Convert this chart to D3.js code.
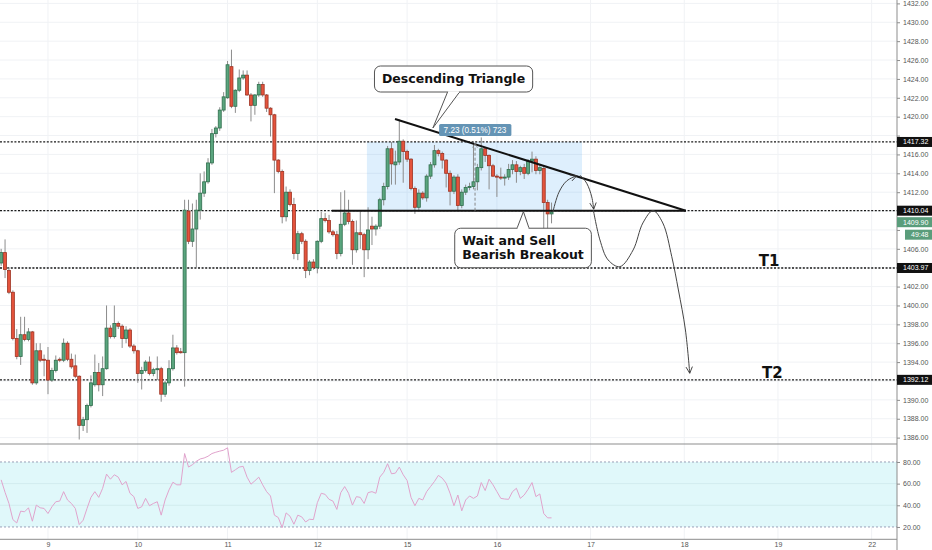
<!DOCTYPE html>
<html><head><meta charset="utf-8">
<script src="https://cdn.jsdelivr.net/npm/d3@7/dist/d3.min.js"></script>
<style>body{margin:0;background:#fff}svg{display:block}</style>
</head><body>
<svg id="c" width="932" height="550"></svg>
<script>
// ---------------- DATA ----------------
const opens = [1404.5,1405.6,1403.7,1401.4,1396.5,1394.6,1396.9,1396.4,1397.2,1391.8,1395.2,1394.3,1394.2,1392.1,1393.1,1394.3,1394.2,1396.0,1394.3,1393.6,1392.5,1387.3,1387.9,1389.4,1391.6,1392.9,1391.6,1393.3,1397.6,1396.7,1398.1,1397.8,1396.5,1397.4,1395.7,1395.2,1392.8,1393.1,1394.0,1392.8,1393.2,1393.3,1390.6,1391.8,1393.3,1395.5,1395.1,1395.0,1410.0,1406.8,1408.1,1410.1,1411.9,1413.1,1415.1,1418.2,1418.8,1420.7,1422.0,1425.3,1421.1,1422.8,1424.1,1424.4,1422.3,1421.2,1422.3,1423.4,1422.3,1420.9,1420.2,1415.4,1414.2,1409.4,1412.0,1410.7,1405.5,1407.6,1406.8,1403.7,1404.6,1404.0,1406.8,1409.2,1409.0,1407.8,1407.5,1405.5,1408.6,1409.8,1408.9,1405.9,1407.7,1407.5,1405.9,1408.4,1408.1,1408.4,1411.2,1412.6,1416.6,1414.9,1415.2,1417.4,1416.3,1415.5,1412.4,1410.4,1411.9,1411.4,1413.7,1414.9,1416.4,1416.1,1415.4,1414.0,1412.1,1413.6,1410.6,1412.0,1412.5,1412.6,1413.1,1414.6,1416.6,1415.9,1414.8,1413.7,1413.6,1413.5,1413.6,1414.4,1414.9,1414.2,1414.6,1414.0,1415.3,1415.5,1414.3,1414.5,1410.9,1409.7];
const highs = [1406.0,1407.0,1404.0,1401.6,1397.5,1398.8,1398.8,1397.6,1397.3,1396.0,1396.0,1394.8,1395.6,1393.4,1394.7,1394.5,1396.5,1396.2,1394.9,1394.8,1392.6,1388.2,1389.6,1392.6,1394.8,1393.9,1394.6,1400.0,1397.9,1400.0,1398.3,1398.0,1397.8,1397.6,1395.9,1395.3,1393.5,1394.2,1394.6,1393.4,1394.6,1393.5,1392.0,1394.2,1396.9,1395.8,1395.5,1411.2,1411.2,1410.8,1411.2,1414.0,1414.2,1415.6,1418.7,1419.0,1421.0,1422.6,1425.9,1427.1,1422.9,1425.0,1424.9,1424.9,1422.5,1422.4,1423.7,1423.7,1422.4,1421.0,1420.3,1415.5,1414.4,1412.6,1412.3,1411.4,1407.9,1407.8,1407.0,1404.8,1404.9,1406.9,1409.9,1409.8,1409.6,1408.0,1407.9,1412.0,1412.2,1411.2,1409.1,1409.0,1410.1,1407.7,1410.4,1409.4,1408.6,1411.4,1413.0,1416.9,1417.3,1416.4,1419.7,1417.6,1416.5,1415.6,1412.6,1412.3,1412.1,1413.9,1415.2,1417.0,1416.6,1416.3,1415.5,1414.3,1413.8,1413.9,1412.3,1412.8,1413.0,1417.4,1415.0,1417.8,1416.8,1416.0,1415.0,1413.9,1414.6,1413.9,1415.0,1415.4,1415.3,1414.8,1415.0,1415.5,1416.3,1415.8,1415.0,1414.7,1411.2,1410.9];
const lows = [1404.2,1402.9,1401.2,1396.3,1394.3,1393.7,1396.2,1396.2,1391.6,1391.6,1394.0,1392.5,1390.6,1391.9,1392.9,1394.0,1394.0,1394.1,1393.3,1392.3,1385.8,1386.7,1386.5,1389.2,1391.4,1390.9,1390.4,1393.2,1396.5,1396.5,1397.5,1395.5,1396.0,1395.5,1394.9,1391.8,1391.1,1392.9,1392.6,1392.5,1392.1,1389.8,1390.3,1391.5,1393.1,1394.8,1394.9,1391.4,1406.5,1406.2,1404.0,1409.1,1411.5,1412.9,1414.9,1417.8,1418.5,1420.5,1421.9,1420.9,1420.4,1422.6,1423.9,1422.2,1419.5,1420.2,1422.1,1422.1,1420.5,1417.9,1411.9,1414.0,1408.7,1408.9,1410.5,1404.9,1404.8,1406.5,1402.9,1403.2,1403.8,1403.4,1406.6,1408.8,1407.6,1407.3,1404.9,1405.2,1408.4,1408.6,1404.3,1405.6,1406.0,1403.0,1404.9,1406.4,1407.4,1408.1,1410.6,1412.3,1412.8,1412.8,1414.9,1413.0,1415.2,1412.2,1409.7,1410.0,1411.2,1411.0,1413.4,1414.6,1415.8,1414.5,1412.5,1410.6,1411.8,1410.1,1410.3,1411.7,1412.2,1412.3,1412.2,1414.3,1415.2,1412.3,1413.6,1411.5,1413.3,1412.7,1413.3,1413.9,1413.0,1413.8,1413.4,1413.8,1414.1,1413.9,1413.9,1407.8,1407.8,1408.7];
const closes = [1405.6,1403.8,1401.4,1396.5,1394.6,1396.9,1396.4,1397.2,1391.8,1395.2,1394.2,1394.2,1392.1,1393.1,1394.2,1394.2,1396.0,1394.3,1393.5,1392.5,1387.3,1387.9,1389.4,1391.8,1392.9,1391.6,1393.3,1397.6,1396.7,1398.1,1397.8,1396.5,1397.4,1395.7,1395.2,1392.8,1393.1,1394.0,1392.8,1393.2,1393.3,1390.6,1391.8,1393.3,1395.5,1395.0,1395.0,1410.1,1406.8,1408.1,1410.1,1411.9,1413.1,1415.1,1418.2,1418.8,1420.7,1422.1,1425.5,1421.1,1422.8,1424.1,1424.4,1422.3,1421.2,1422.3,1423.4,1422.3,1420.9,1420.2,1415.4,1414.2,1409.4,1412.0,1410.7,1405.5,1407.6,1406.8,1403.7,1404.6,1404.0,1406.8,1409.2,1409.0,1407.8,1407.5,1405.5,1408.6,1409.8,1408.9,1405.9,1407.7,1407.5,1405.9,1408.0,1408.1,1408.4,1411.2,1412.6,1416.6,1415.0,1415.2,1417.4,1416.3,1415.5,1412.4,1410.4,1411.9,1411.4,1413.7,1414.9,1416.4,1416.1,1415.4,1414.0,1412.1,1413.6,1410.6,1412.0,1412.5,1412.6,1413.1,1414.6,1416.6,1415.9,1414.8,1413.7,1413.6,1413.5,1413.6,1414.4,1414.9,1414.2,1414.6,1414.0,1415.3,1415.5,1414.3,1414.6,1410.9,1409.7,1409.9];
const rsiVals = [63.5,52,41.7,26.8,23.7,34.6,34.0,37.7,25.3,40.2,37.7,37.1,32.4,38.6,43.3,43.9,52.6,44.9,41.7,37.1,22.2,26.2,37.1,47.3,52.6,47.3,55.7,68.8,64.1,68.2,66.0,58.9,62.0,51.1,48.0,37.1,38.6,46.4,39.6,41.7,43.3,30.9,44.9,54.2,61.3,58.9,58.9,87.8,75.3,77.5,80.6,82.8,83.7,85.3,87.8,89.0,90.0,90.9,93.1,70.4,72.8,75.3,76.0,66.0,59.5,62.6,66.0,58.9,52.6,48.6,30.9,28.7,19.4,33.0,29.9,22.5,30.9,29.3,24.6,27.1,26.8,42.4,51.1,50.1,45.5,43.9,36.2,51.7,57.3,51.1,40.2,48.0,47.3,41.7,51.7,52.6,51.1,66.0,70.4,78.4,69.1,69.7,75.3,68.2,62.9,47.3,39.6,46.4,44.9,52.6,57.3,62.0,67.6,65.1,60.4,51.1,39.6,49.5,34.9,44.9,48.6,46.4,48.6,61.0,53.6,64.1,58.9,52.6,46.4,45.8,45.5,52.6,55.7,46.4,49.5,54.8,61.0,48.0,50.5,32.4,28.4,28.4];
const dayTickIdx = [12,35,58,81,104,127,151,175,199,223];
const dayTickLabels = ["9","10","11","12","15","16","17","18","19","22"];
const priceTicks = d3.range(1386, 1433, 2);
const rsiTicks = [20,40,60,80];
const levelPrices = [1417.32, 1410.04, 1403.97, 1392.12];
const lastPrice = 1409.90;
const countdownText = "49:48";
const targetLabels = [{t:"T1", i:194.1, p:1403.97},{t:"T2", i:194.9, p:1392.12}];
// annotation geometry in data space [barIndex, price]
const zoneBox = {i0:93.7, i1:148.8, p0:1410.04, p1:1417.32};
const supportLine = [[84.7,1410.04],[175.4,1410.04]];
const triangleLine = [[100.9,1419.76],[175.4,1410.04]];
const measure = {i:121.4, p0:1410.04, p1:1417.32, text:"7.23 (0.51%) 723"};
const arcUp = [[141.4,1410.0],[142.9,1412.0],[144.9,1413.2],[147.5,1413.75]];
const dropToSupport = [[148.3,1413.8],[150.0,1412.95],[151.3,1411.5],[151.8,1410.2]];
const wavePath = [[151.7,1410.12],[153.4,1406.94],[155.5,1404.82],[158.5,1404.11],[161.9,1405.88],[164.4,1408.74],[167.0,1410.04],[169.5,1408.74],[171.8,1405.17],[173.5,1401.64],[175.3,1397.4],[176.4,1392.82]];
const callouts = [
  {lines:["Descending Triangle"], tip:[110.6,1418.8], center:[115.9,1423.99], align:"middle"},
  {lines:["Wait and Sell","Bearish Breakout"], tip:[133.8,1409.94], center:[133.7,1406.09], align:"start"}
];

// ---------------- SETUP ----------------
const W = 932, axisX = 897, mainBot = 444, rsiBot = 539.3;
const svg = d3.select("#c");
const x = d3.scaleLinear().domain([-0.295, 229.5]).range([0, axisX]);
const y = d3.scaleLinear().domain([1385.43, 1432.36]).range([443, 0]);
const yR = d3.scaleLinear().domain([8.6, 96.6]).range([rsiBot, mainBot]);
const axisFont = "'Liberation Sans', Arial, sans-serif";
const boldFont = "'DejaVu Sans', Verdana, sans-serif";

const defs = svg.append("defs");
defs.append("clipPath").attr("id","clipMain").append("rect").attr("x",0).attr("y",0).attr("width",axisX).attr("height",mainBot);
defs.append("clipPath").attr("id","clipRsi").append("rect").attr("x",0).attr("y",mainBot).attr("width",axisX).attr("height",rsiBot-mainBot);
defs.append("marker").attr("id","arr").attr("viewBox","0 0 10 10").attr("refX",9).attr("refY",5)
  .attr("markerWidth",8).attr("markerHeight",8).attr("markerUnits","userSpaceOnUse").attr("orient","auto")
  .append("path").attr("d","M1,1 L9,5 L1,9").attr("fill","none").attr("stroke","#333").attr("stroke-width",1.1);
defs.append("marker").attr("id","arrS").attr("viewBox","0 0 10 10").attr("refX",9).attr("refY",5)
  .attr("markerWidth",6).attr("markerHeight",6).attr("markerUnits","userSpaceOnUse").attr("orient","auto")
  .append("path").attr("d","M1,1 L9,5 L1,9").attr("fill","none").attr("stroke","#777").attr("stroke-width",1.1);

// ---------------- GRID ----------------
const grid = svg.append("g");
grid.selectAll("line.hg").data(priceTicks).join("line").attr("class","hg")
  .attr("x1",0).attr("x2",axisX).attr("y1",d=>y(d)).attr("y2",d=>y(d)).attr("stroke","#f0f2f5");
grid.selectAll("line.vg").data(dayTickIdx).join("line").attr("class","vg")
  .attr("x1",d=>x(d)).attr("x2",d=>x(d)).attr("y1",0).attr("y2",rsiBot).attr("stroke","#f0f2f5");

// ---------------- MAIN PANEL ----------------
const main = svg.append("g").attr("clip-path","url(#clipMain)");
main.append("rect").attr("x",x(zoneBox.i0)).attr("y",y(zoneBox.p1))
  .attr("width",x(zoneBox.i1)-x(zoneBox.i0)).attr("height",y(zoneBox.p0)-y(zoneBox.p1))
  .attr("fill","#2196f3").attr("fill-opacity",0.15);

main.selectAll("line.lvl").data(levelPrices).join("line").attr("class","lvl")
  .attr("x1",0).attr("x2",axisX).attr("y1",d=>y(d)).attr("y2",d=>y(d))
  .attr("stroke","#1a1a1a").attr("stroke-width",1.3).attr("stroke-dasharray","2,1.6");

const idx = d3.range(opens.length);
const candles = main.append("g");
candles.selectAll("line.wick").data(idx).join("line").attr("class","wick")
  .attr("x1",i=>x(i)).attr("x2",i=>x(i)).attr("y1",i=>y(highs[i])).attr("y2",i=>y(lows[i]))
  .attr("stroke","#8c8c8c").attr("stroke-width",1);
candles.selectAll("rect.body").data(idx).join("rect").attr("class","body")
  .attr("x",i=>x(i)-1.5).attr("width",3)
  .attr("y",i=>y(Math.max(opens[i],closes[i])))
  .attr("height",i=>Math.max(1,Math.abs(y(opens[i])-y(closes[i]))))
  .attr("fill",i=>closes[i]>=opens[i]?"#5aa57e":"#e4533c")
  .attr("stroke",i=>closes[i]>=opens[i]?"#2f6e4d":"#9e3323").attr("stroke-width",0.8);

const line = d3.line().x(d=>x(d[0])).y(d=>y(d[1]));
main.append("path").attr("d",line(supportLine)).attr("stroke","#111").attr("stroke-width",2).attr("fill","none");
main.append("path").attr("d",line(triangleLine)).attr("stroke","#111").attr("stroke-width",2).attr("fill","none");

// measure tool
main.append("line").attr("x1",x(measure.i)).attr("x2",x(measure.i)).attr("y1",y(measure.p0)).attr("y2",y(measure.p1)+1)
  .attr("stroke","#888").attr("stroke-width",1).attr("stroke-dasharray","3,2").attr("marker-end","url(#arrS)");
const mg = main.append("g");
const mCy = y(measure.p1) - 12;
const mt = mg.append("text").attr("x",x(measure.i)).attr("y",mCy).attr("dy","0.35em")
  .attr("text-anchor","middle").attr("font-family",axisFont).attr("font-size",8.2).attr("fill","#fff").text(measure.text);
const mb = mt.node().getBBox();
mg.insert("rect","text").attr("x",mb.x-4.5).attr("y",mCy-6).attr("width",mb.width+9).attr("height",12).attr("rx",1.5)
  .attr("fill","#6494b5");

// curved arrows
const curve = d3.line().x(d=>x(d[0])).y(d=>y(d[1])).curve(d3.curveCatmullRom.alpha(0.5));
main.append("path").attr("d",curve(arcUp)).attr("fill","none").attr("stroke","#444").attr("stroke-width",1).attr("marker-end","url(#arr)");
main.append("path").attr("d",curve(dropToSupport)).attr("fill","none").attr("stroke","#444").attr("stroke-width",1).attr("marker-end","url(#arr)");
main.append("path").attr("d",curve(wavePath)).attr("fill","none").attr("stroke","#444").attr("stroke-width",1).attr("marker-end","url(#arr)");

// target labels
main.selectAll("text.tgt").data(targetLabels).join("text").attr("class","tgt")
  .attr("x",d=>x(d.i)).attr("y",d=>y(d.p)-1.5).attr("font-family",boldFont).attr("font-weight","bold")
  .attr("font-size",15).attr("fill","#111").text(d=>d.t);

// callouts
callouts.forEach(c=>{
  const g = main.append("g");
  const cx = x(c.center[0]), cy = y(c.center[1]);
  const n = c.lines.length;
  const h = 17 + (n-1)*13.5 + 9;
  const top = cy - h/2;
  const t = g.append("text").attr("font-family",boldFont).attr("font-weight","bold").attr("font-size",12.5).attr("fill","#111");
  c.lines.forEach((s,k)=>t.append("tspan").attr("x",0).attr("y",top+17+k*13.5).text(s));
  const bw = t.node().getBBox().width + 15;
  const left = cx - bw/2;
  if (c.align==="middle") { t.attr("text-anchor","middle"); t.selectAll("tspan").attr("x",cx); }
  else { t.selectAll("tspan").attr("x",left+7.5); }
  const tx = x(c.tip[0]), ty = y(c.tip[1]);
  const edge = ty < top ? top : top + h;
  g.insert("rect","text").attr("x",left).attr("y",top).attr("width",bw).attr("height",h).attr("rx",6)
    .attr("fill","#fff").attr("stroke","#555").attr("stroke-width",1);
  g.insert("path","text").attr("d",`M${cx-6},${edge} L${tx},${ty} L${cx+6},${edge}`)
    .attr("fill","#fff").attr("stroke","#555").attr("stroke-width",1);
  g.insert("line","text").attr("x1",cx-5.4).attr("x2",cx+5.4).attr("y1",edge).attr("y2",edge).attr("stroke","#fff").attr("stroke-width",1.6);
});

// ---------------- RSI PANEL ----------------
const rsi = svg.append("g").attr("clip-path","url(#clipRsi)");
rsi.append("rect").attr("x",0).attr("width",axisX).attr("y",yR(80)).attr("height",yR(20)-yR(80)).attr("fill","#e0f8fa");
rsi.selectAll("line.rg").data([40,60]).join("line").attr("class","rg")
  .attr("x1",0).attr("x2",axisX).attr("y1",d=>yR(d)).attr("y2",d=>yR(d)).attr("stroke","#d2ecee");
rsi.selectAll("line.band").data([20,80]).join("line").attr("class","band")
  .attr("x1",0).attr("x2",axisX).attr("y1",d=>yR(d)).attr("y2",d=>yR(d))
  .attr("stroke","#9aa0b8").attr("stroke-width",1).attr("stroke-dasharray","2,2");
rsi.append("path").attr("d", d3.line().x((d,i)=>x(i)).y(d=>yR(d))(rsiVals))
  .attr("fill","none").attr("stroke","#e0a3cc").attr("stroke-width",1);

// ---------------- FRAMES ----------------
svg.append("line").attr("x1",0).attr("x2",axisX).attr("y1",mainBot).attr("y2",mainBot).attr("stroke","#8d8d8d").attr("stroke-width",1);
svg.append("line").attr("x1",0).attr("x2",axisX).attr("y1",rsiBot).attr("y2",rsiBot).attr("stroke","#8d8d8d").attr("stroke-width",1);
svg.append("line").attr("x1",axisX).attr("x2",axisX).attr("y1",0).attr("y2",550).attr("stroke","#8d8d8d").attr("stroke-width",1);

// ---------------- AXES ----------------
const styleAxis = g => {
  g.select(".domain").remove();
  g.selectAll(".tick line").attr("stroke","#8d8d8d");
  g.selectAll(".tick text").attr("fill","#555").attr("font-family",axisFont).attr("font-size",7);
};
// badges on the price scale (drawn later) hide the tick labels they cover
const lastY = Math.max(y(lastPrice), y(levelPrices[1]) + 11.5);
const badgeYs = levelPrices.map(p=>y(p)).concat([lastY, lastY + 12.5]);
const coveredByBadge = v => badgeYs.some(by => Math.abs(y(v) - by) < 8);

const priceAxis = svg.append("g").attr("transform",`translate(${axisX},0)`)
  .call(d3.axisRight(y).tickValues(priceTicks).tickFormat(d3.format(".2f")).tickSize(3).tickPadding(3)).call(styleAxis);
priceAxis.selectAll(".tick").filter(d=>coveredByBadge(d)).select("text").remove();
svg.append("g").attr("transform",`translate(${axisX},0)`)
  .call(d3.axisRight(yR).tickValues(rsiTicks).tickFormat(d3.format(".2f")).tickSize(3).tickPadding(3)).call(styleAxis);
svg.append("g").attr("transform",`translate(0,${rsiBot})`)
  .call(d3.axisBottom(x).tickValues(dayTickIdx).tickFormat((d,i)=>dayTickLabels[i]).tickSize(0).tickPadding(3)).call(styleAxis);

// axis badges
function badge(cy, txt, fill, x0) {
  const g = svg.append("g");
  g.append("rect").attr("x",x0).attr("y",cy-5).attr("width",W-x0).attr("height",10).attr("fill",fill);
  g.append("text").attr("x",x0+6).attr("y",cy).attr("dy","0.35em").attr("fill","#fff")
    .attr("font-family",axisFont).attr("font-size",7).text(txt);
}
levelPrices.forEach(p=>badge(y(p), d3.format(".2f")(p), "#111", axisX));
badge(lastY, d3.format(".2f")(lastPrice), "#5a9d7b", axisX);
badge(lastY + 12.5, countdownText, "#5a9d7b", axisX + 8);
</script>
</body></html>
